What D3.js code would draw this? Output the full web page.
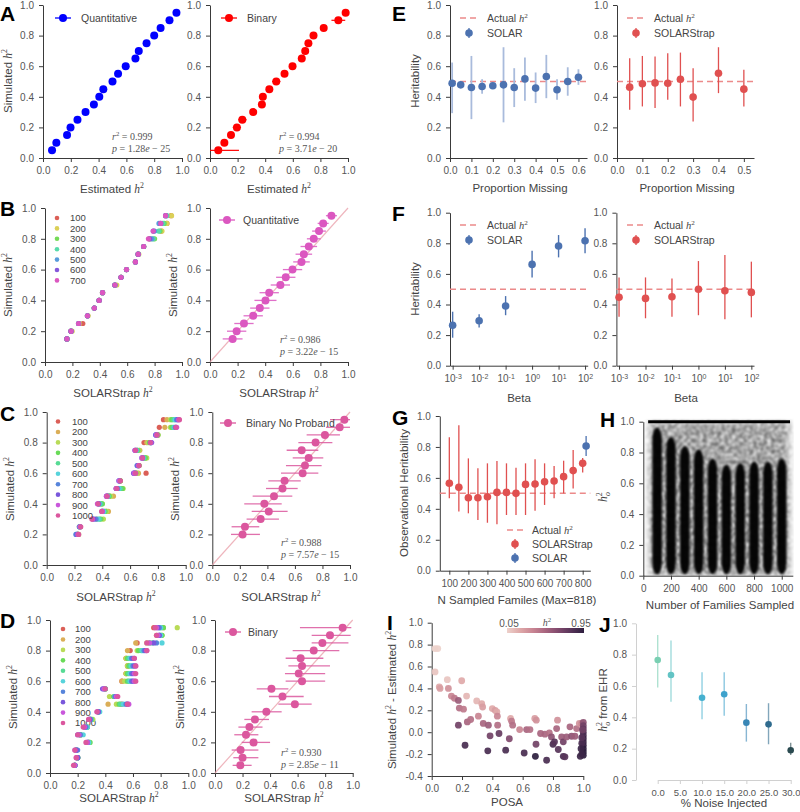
<!DOCTYPE html>
<html><head><meta charset="utf-8">
<script src="https://cdn.jsdelivr.net/npm/d3@7"></script>
<style>
body{margin:0;background:#fff;}
svg{display:block;font-family:"Liberation Sans",Arial,sans-serif;}
</style></head><body>
<svg id="c" width="800" height="812"></svg>
<script>
// ---------------- DATA ----------------
// Panel A
const levelsA = [0.05,0.10,0.15,0.20,0.25,0.30,0.35,0.40,0.45,0.50,0.55,0.60,0.65,0.70,0.75,0.80,0.85,0.90,0.95];
const quantEst = [0.065,0.096,0.173,0.198,0.248,0.306,0.366,0.405,0.434,0.50,0.54,0.595,0.665,0.689,0.745,0.80,0.846,0.91,0.96];
const binEst = [0.06,0.104,0.152,0.195,0.234,0.313,0.376,0.383,0.43,0.48,0.54,0.598,0.665,0.69,0.713,0.75,0.824,0.93,0.983];
const binLo  = [0.0,0.085,0.13,0.165,0.205,0.29,0.36,0.37,0.41,0.45,0.52,0.575,0.645,0.68,0.695,0.73,0.815,0.88,0.975];
const binHi  = [0.21,0.12,0.175,0.225,0.265,0.335,0.39,0.395,0.45,0.51,0.56,0.62,0.685,0.70,0.735,0.77,0.835,0.98,0.99];
// Panel B
const sampleSizesB = ["100","200","300","400","500","600","700"];
const levelsB = [0.15,0.20,0.25,0.30,0.35,0.40,0.45,0.50,0.55,0.60,0.65,0.70,0.75,0.80,0.85,0.90,0.95];
const b100 = [0.16,0.19,0.276,0.31,0.36,0.395,0.42,0.51,0.555,0.595,0.66,0.68,0.72,0.76,0.85,0.89,0.92];
const b200 = [0.16,0.198,0.25,0.315,0.36,0.395,0.42,0.524,0.555,0.595,0.66,0.685,0.72,0.77,0.854,0.89,0.924];
const b300 = [0.16,0.19,0.245,0.31,0.36,0.395,0.42,0.51,0.555,0.595,0.66,0.68,0.72,0.80,0.84,0.87,0.883];
const b400 = [0.16,0.19,0.245,0.31,0.36,0.395,0.42,0.51,0.555,0.595,0.66,0.68,0.72,0.79,0.83,0.86,0.89];
const b500 = [0.16,0.19,0.245,0.31,0.36,0.395,0.42,0.51,0.555,0.595,0.66,0.68,0.72,0.78,0.80,0.832,0.88];
const b600 = [0.16,0.19,0.245,0.31,0.36,0.395,0.42,0.51,0.555,0.595,0.66,0.68,0.72,0.765,0.79,0.845,0.88];
const b700 = [0.16,0.19,0.245,0.31,0.36,0.395,0.42,0.51,0.555,0.595,0.66,0.68,0.72,0.755,0.79,0.845,0.88];
const bqEst = [0.164,0.193,0.246,0.313,0.361,0.402,0.429,0.51,0.549,0.598,0.663,0.68,0.716,0.752,0.79,0.82,0.88];
const bqErr = [0.072,0.07,0.07,0.07,0.07,0.08,0.07,0.07,0.07,0.07,0.06,0.06,0.06,0.05,0.05,0.04,0.04];
// Panel C
const sampleSizesCD = ["100","200","300","400","500","600","700","800","900","1000"];
const levelsC = [0.20,0.25,0.30,0.35,0.40,0.45,0.50,0.55,0.60,0.65,0.70,0.75,0.80,0.85,0.90,0.95];
const c100  = [0.225,0.24,0.33,0.43,0.38,0.45,0.50,0.53,0.715,0.66,0.70,0.65,0.70,0.79,0.81,0.84];
const c200  = [0.225,0.24,0.36,0.444,0.39,0.48,0.54,0.53,0.66,0.665,0.71,0.67,0.72,0.80,0.85,0.865];
const c300  = [0.23,0.24,0.408,0.43,0.40,0.46,0.55,0.53,0.65,0.66,0.72,0.665,0.73,0.80,0.89,0.89];
const c400  = [0.22,0.235,0.39,0.42,0.40,0.45,0.545,0.53,0.64,0.665,0.71,0.655,0.74,0.80,0.90,0.90];
const c500  = [0.22,0.24,0.38,0.41,0.39,0.44,0.53,0.525,0.64,0.66,0.70,0.65,0.745,0.795,0.91,0.915];
const c600  = [0.215,0.24,0.37,0.41,0.38,0.44,0.52,0.52,0.635,0.655,0.695,0.645,0.75,0.79,0.92,0.925];
const c700  = [0.21,0.235,0.355,0.40,0.375,0.435,0.51,0.52,0.63,0.65,0.69,0.64,0.75,0.785,0.925,0.935];
const c800  = [0.22,0.24,0.34,0.40,0.37,0.43,0.50,0.525,0.625,0.655,0.685,0.635,0.755,0.785,0.93,0.945];
const c900  = [0.225,0.24,0.33,0.40,0.365,0.43,0.50,0.52,0.63,0.66,0.685,0.635,0.75,0.79,0.935,0.95];
const c1000 = [0.23,0.245,0.325,0.395,0.37,0.435,0.505,0.53,0.64,0.665,0.69,0.64,0.745,0.795,0.93,0.955];
const cbEst = [0.22,0.237,0.351,0.41,0.378,0.448,0.51,0.525,0.656,0.673,0.70,0.649,0.75,0.818,0.925,0.959];
const cbLo  = [0.136,0.14,0.249,0.286,0.232,0.293,0.39,0.407,0.499,0.535,0.584,0.54,0.625,0.685,0.826,0.855];
const cbHi  = [0.346,0.341,0.484,0.547,0.504,0.581,0.62,0.642,0.77,0.794,0.806,0.77,0.872,0.927,1.0,1.0];
// Panel D
const levelsD = [0.05,0.10,0.15,0.20,0.25,0.30,0.35,0.40,0.45,0.50,0.55,0.60,0.65,0.70,0.75,0.80,0.85,0.90,0.95];
const d100  = [0.18,0.20,0.19,0.28,0.22,0.26,0.29,0.35,0.52,0.47,0.40,0.52,0.55,0.56,0.55,0.58,0.63,0.79,0.75];
const d200  = [0.18,0.20,0.19,0.28,0.22,0.26,0.29,0.35,0.42,0.47,0.40,0.52,0.55,0.56,0.55,0.56,0.62,0.77,0.82];
const d300  = [0.18,0.20,0.19,0.28,0.22,0.27,0.31,0.35,0.48,0.43,0.40,0.54,0.55,0.56,0.55,0.63,0.70,0.81,0.92];
const d400  = [0.18,0.20,0.19,0.29,0.22,0.27,0.30,0.35,0.50,0.46,0.40,0.56,0.56,0.57,0.56,0.64,0.72,0.81,0.82];
const d500  = [0.18,0.20,0.19,0.28,0.22,0.27,0.30,0.35,0.51,0.47,0.40,0.57,0.57,0.58,0.57,0.66,0.74,0.80,0.80];
const d600  = [0.18,0.20,0.19,0.28,0.24,0.27,0.29,0.36,0.53,0.47,0.40,0.58,0.58,0.59,0.58,0.67,0.81,0.80,0.80];
const d700  = [0.18,0.20,0.20,0.27,0.22,0.26,0.29,0.35,0.55,0.47,0.39,0.59,0.59,0.60,0.59,0.68,0.77,0.79,0.79];
const d800  = [0.18,0.20,0.19,0.27,0.20,0.25,0.29,0.35,0.56,0.48,0.38,0.60,0.60,0.61,0.60,0.69,0.75,0.79,0.78];
const d900  = [0.18,0.19,0.18,0.27,0.21,0.25,0.28,0.34,0.57,0.48,0.39,0.61,0.61,0.62,0.61,0.70,0.72,0.78,0.77];
const d1000 = [0.17,0.19,0.18,0.26,0.20,0.24,0.28,0.34,0.56,0.49,0.40,0.62,0.62,0.62,0.61,0.70,0.70,0.77,0.76];
const dbEst = [0.184,0.20,0.186,0.28,0.225,0.25,0.29,0.373,0.58,0.49,0.41,0.632,0.608,0.632,0.622,0.717,0.78,0.835,0.927];
const dbLo  = [0.128,0.133,0.121,0.194,0.14,0.17,0.213,0.266,0.46,0.392,0.303,0.513,0.508,0.533,0.513,0.564,0.702,0.702,0.617];
const dbHi  = [0.266,0.315,0.315,0.40,0.315,0.345,0.392,0.484,0.702,0.644,0.533,0.80,0.80,0.835,0.787,0.903,0.969,0.985,0.99];
// Panel E
const eSolarX  = [0.01,0.05,0.10,0.15,0.20,0.25,0.30,0.35,0.40,0.45,0.50,0.55,0.60];
const eSolarH  = [0.489,0.478,0.461,0.467,0.472,0.478,0.461,0.517,0.457,0.533,0.446,0.50,0.528];
const eSolarLo = [0.293,0.47,0.254,0.42,0.465,0.233,0.333,0.374,0.359,0.391,0.38,0.407,0.478];
const eSolarHi = [0.624,0.49,0.667,0.515,0.48,0.724,0.587,0.657,0.559,0.674,0.515,0.593,0.58];
const eStrapX  = [0.05,0.10,0.15,0.20,0.25,0.30,0.40,0.50];
const eStrapH  = [0.463,0.485,0.491,0.489,0.515,0.398,0.554,0.45];
const eStrapLo = [0.315,0.337,0.326,0.38,0.337,0.239,0.424,0.337];
const eStrapHi = [0.652,0.667,0.663,0.685,0.689,0.587,0.724,0.576];
// Panel F
const betas = [1e-3,1e-2,1e-1,1,10,100];
const fSolarH  = [0.264,0.294,0.39,0.662,0.782,0.817];
const fSolarLo = [0.183,0.25,0.33,0.577,0.708,0.735];
const fSolarHi = [0.353,0.336,0.455,0.752,0.854,0.898];
const fStrapH  = [0.447,0.44,0.451,0.50,0.49,0.479];
const fStrapLo = [0.32,0.31,0.32,0.33,0.303,0.316];
const fStrapHi = [0.577,0.577,0.57,0.684,0.723,0.68];
// Panel G
const gN  = [100,150,200,250,300,350,400,450,500,550,600,650,700,750,800];
const gH  = [0.565,0.539,0.472,0.472,0.478,0.506,0.506,0.50,0.558,0.56,0.575,0.58,0.608,0.647,0.694];
const gLo = [0.468,0.382,0.371,0.328,0.31,0.30,0.36,0.36,0.36,0.388,0.425,0.468,0.50,0.532,0.634];
const gHi = [0.862,0.94,0.726,0.662,0.694,0.709,0.694,0.666,0.694,0.72,0.694,0.677,0.711,0.78,0.728];
const gSolarN = [818], gSolarH = [0.806], gSolarLo = [0.741], gSolarHi = [0.87];
// Panel H (density columns)
const hFamilies  = [100,200,300,400,500,600,700,800,900,1000];
const hDenseTop  = [0.96,0.90,0.84,0.82,0.76,0.72,0.73,0.74,0.74,0.76];
const hDenseBot  = [0.01,0.01,0.01,0.01,0.01,0.01,0.01,0.01,0.01,0.01];
const hHazeTop   = [1.0,1.0,1.0,1.0,1.0,1.0,1.0,1.0,1.0,1.0];
// Panel I
const iPosa = [0.022,0.04,0.022,0.05,0.055,0.103,0.11,0.198,0.13,0.15,0.176,0.182,0.23,0.21,0.176,0.235,0.257,0.297,0.308,0.33,0.336,0.34,0.374,0.385,0.40,0.418,0.43,0.433,0.435,0.444,0.22,0.37,0.488,0.512,0.52,0.527,0.534,0.58,0.61,0.626,0.648,0.68,0.69,0.684,0.688,0.718,0.747,0.758,0.776,0.79,0.80,0.81,0.824,0.83,0.835,0.857,0.868,0.868,0.879,0.89,0.912,0.923,0.945,0.956,0.974,0.99,1.0,1.0,1.0,1.0,1.0,1.0,1.0,1.0,1.0,1.0,1.0,0.99,0.99,0.99,0.985,0.995,0.98];
const iDiff = [0.764,0.764,0.55,0.414,0.40,0.48,0.40,0.47,0.33,0.31,0.29,0.22,0.33,0.21,0.064,0.094,0.116,0.286,0.146,0.26,0.23,0.08,0.064,-0.033,0.216,0.20,0.186,0.146,0.064,-0.012,-0.119,-0.17,-0.164,-0.06,0.125,0.10,0.064,0.024,-0.19,0.024,0.024,0.125,0.11,-0.22,-0.11,-0.012,-0.018,-0.256,-0.006,-0.043,-0.11,-0.088,0.033,0.11,-0.158,-0.043,-0.088,-0.22,-0.225,-0.043,0.049,-0.037,-0.037,0.033,0.08,0.08,0.09,0.06,0.03,0.0,-0.03,-0.06,-0.09,-0.12,-0.15,-0.18,-0.21,-0.20,-0.10,-0.05,-0.15,0.02,-0.22];
const iH2 = [0.05,0.05,0.1,0.2,0.25,0.1,0.3,0.2,0.35,0.4,0.55,0.45,0.15,0.4,0.7,0.5,0.45,0.15,0.35,0.2,0.25,0.5,0.55,0.7,0.2,0.25,0.2,0.35,0.45,0.75,0.85,0.85,0.85,0.65,0.2,0.4,0.45,0.35,0.85,0.5,0.45,0.25,0.3,0.95,0.7,0.5,0.5,0.85,0.45,0.6,0.85,0.8,0.5,0.3,0.8,0.55,0.7,0.85,0.8,0.55,0.5,0.6,0.55,0.45,0.3,0.35,0.6,0.7,0.75,0.8,0.85,0.9,0.9,0.92,0.95,0.95,0.95,0.9,0.85,0.8,0.9,0.7,0.9];
// Panel J
const jNoise = [0,3,10,15,20,25,30];
const jNoiseTicks = [0,5,10,15,20,25,30];
const jH  = [0.766,0.67,0.525,0.547,0.366,0.355,0.19];
const jLo = [0.59,0.50,0.387,0.41,0.245,0.228,0.16];
const jHi = [0.925,0.89,0.687,0.687,0.485,0.49,0.238];
const jColors = ["#79cfb2","#62c3c4","#46b0cf","#3ea2cc","#3886b6","#2f6b8e","#2a4a50"];

// ---------------- HELPERS ----------------
const svg = d3.select('#c');
const FONT = '"Liberation Sans", Arial, sans-serif';
const SERIF = '"Liberation Serif", "DejaVu Serif", serif';
const AX = '#3a3a3a', TL = '#555', LB = '#444';
const BLUE = '#4c72b0', RED = '#e05050', DASH = '#ec8a8a';
const f1 = d3.format('.1f');
const ticks01 = [0,0.2,0.4,0.6,0.8,1.0];

function styleAxis(g, col, fs){
  g.select('.domain').attr('stroke', col||AX).attr('stroke-width',1);
  g.selectAll('.tick line').attr('stroke', col||AX);
  g.selectAll('.tick text').attr('fill',TL).attr('font-size',fs||10).attr('font-family',FONT);
}
function axes(x, y, o={}){
  const xa = svg.append('g').attr('transform',`translate(0,${o.xAxisY ?? y.range()[0]})`)
    .call(d3.axisBottom(x).tickValues(o.xTicks||ticks01).tickFormat(o.fx||f1).tickSize(4).tickPadding(5).tickSizeOuter(0));
  styleAxis(xa, o.col, o.xfs);
  const ya = svg.append('g').attr('transform',`translate(${o.yAxisX ?? x.range()[0]},0)`)
    .call(d3.axisLeft(y).tickValues(o.yTicks||ticks01).tickFormat(o.fy||f1).tickSize(4).tickPadding(5).tickSizeOuter(0));
  styleAxis(ya, o.col);
  return {xa, ya};
}
function mtext(parent, x, y, parts, o={}){
  const fs = o.size || 11.5;
  const t = parent.append('text')
    .attr('transform', `translate(${x},${y})` + (o.rot ? ` rotate(${o.rot})` : ''))
    .attr('text-anchor', o.anchor || 'middle').attr('font-size', fs)
    .attr('fill', o.fill || LB).attr('font-family', o.family || FONT);
  let shift = 0;
  parts.forEach(([s,k])=>{
    const ts = t.append('tspan').text(s);
    let target = 0;
    if(k==='i'){ ts.attr('font-family',SERIF).attr('font-style','italic'); }
    if(k==='r'){ ts.attr('font-family',SERIF); }
    if(k==='sup'){ ts.attr('font-family',SERIF).attr('font-size',fs*0.68); target = -0.42*fs; }
    if(k==='sub'){ ts.attr('font-family',SERIF).attr('font-style','italic').attr('font-size',fs*0.68).attr('dx',-fs*0.33); target = 0.3*fs; }
    const dy = target - shift;
    if(dy !== 0) ts.attr('dy', dy);
    shift = target;
  });
  return t;
}
const H2 = [['h','i'],['2','sup']];
function letter(x, y, s){
  svg.append('text').attr('x',x).attr('y',y).attr('font-size',21).attr('font-weight','bold')
    .attr('font-family',FONT).attr('fill','#000').text(s);
}
function annot(x, y, r2, pm, pe){
  mtext(svg, x, y, [['r','i'],['2','sup'],[' = '+r2,'r']], {anchor:'start', size:10, family:SERIF, fill:'#555'});
  mtext(svg, x, y+11.5, [['p','i'],[' = '+pm,'r'],['e','i'],[' − '+pe,'r']], {anchor:'start', size:10, family:SERIF, fill:'#555'});
}
function errXPoints(x, y, lev, est, lo, hi, color, r, w, op){
  const g = svg.append('g');
  g.selectAll(null).data(lev).join('line')
    .attr('x1',(d,i)=>x(lo[i])).attr('x2',(d,i)=>x(hi[i]))
    .attr('y1',d=>y(d)).attr('y2',d=>y(d))
    .attr('stroke',color).attr('stroke-width',w).attr('stroke-opacity',op??1);
  g.selectAll(null).data(lev).join('circle')
    .attr('cx',(d,i)=>x(est[i])).attr('cy',d=>y(d)).attr('r',r).attr('fill',color);
}
function errYPoints(x, y, xs, h, lo, hi, color, barColor, r, w){
  const g = svg.append('g');
  g.selectAll(null).data(xs).join('line')
    .attr('x1',d=>x(d)).attr('x2',d=>x(d))
    .attr('y1',(d,i)=>y(lo[i])).attr('y2',(d,i)=>y(hi[i]))
    .attr('stroke',barColor).attr('stroke-width',w);
  g.selectAll(null).data(xs).join('circle')
    .attr('cx',d=>x(d)).attr('cy',(d,i)=>y(h[i])).attr('r',r).attr('fill',color);
}
const hls = (i,n) => d3.hsl(((0.01 + i/n) % 1)*360, 0.65, 0.6).formatHex();
function multiScatter(x, y, lev, series, r){
  const g = svg.append('g');
  series.forEach((arr, si)=>{
    g.selectAll(null).data(lev).join('circle')
      .attr('cx',(d,i)=>x(arr[i])).attr('cy',d=>y(d)).attr('r',r)
      .attr('fill',hls(si, series.length));
  });
}
function sizeLegend(names, dotX, textX, y0, dy){
  const g = svg.append('g');
  names.forEach((n,i)=>{
    g.append('circle').attr('cx',dotX).attr('cy',y0+i*dy).attr('r',2.3).attr('fill',hls(i,names.length));
    g.append('text').attr('x',textX).attr('y',y0+i*dy+3.4).attr('font-size',9.5).attr('fill',LB).text(n);
  });
}
function legendMarker(cx, cy, color, orient, r){
  const g = svg.append('g');
  if(orient==='h') g.append('line').attr('x1',cx-8).attr('x2',cx+8).attr('y1',cy).attr('y2',cy).attr('stroke',color).attr('stroke-width',1.3);
  if(orient==='v') g.append('line').attr('x1',cx).attr('x2',cx).attr('y1',cy-5).attr('y2',cy+5).attr('stroke',color).attr('stroke-width',1.3);
  g.append('circle').attr('cx',cx).attr('cy',cy).attr('r',r||3.8).attr('fill',color);
}
function legendText(x, y, parts){ mtext(svg, x, y, parts, {anchor:'start', size:10.5}); }
function legendDash(x1, x2, y){
  svg.append('line').attr('x1',x1).attr('x2',x2).attr('y1',y).attr('y2',y)
    .attr('stroke',DASH).attr('stroke-width',1.5).attr('stroke-dasharray','6,4');
}
function hline(x, y, v){
  svg.append('line').attr('x1',x.range()[0]).attr('x2',x.range()[1]).attr('y1',y(v)).attr('y2',y(v))
    .attr('stroke',DASH).attr('stroke-width',1.5).attr('stroke-dasharray','6,4');
}
function diag(x, y, color){
  svg.append('line').attr('x1',x(0)).attr('y1',y(0)).attr('x2',x(1)).attr('y2',y(1))
    .attr('stroke',color).attr('stroke-width',1.2).attr('stroke-opacity',0.8);
}

// ---------------- PANEL A ----------------
const yA = d3.scaleLinear([0,1],[158,5]);
const xA1 = d3.scaleLinear([0,1],[43,182]);
const xA2 = d3.scaleLinear([0,1],[210,348]);
axes(xA1, yA); axes(xA2, yA);
errXPoints(xA1, yA, levelsA, quantEst, quantEst, quantEst, '#0000ff', 4, 1);
errXPoints(xA2, yA, levelsA, binEst, binLo, binHi, '#ff0000', 4, 1.2);
legendMarker(63, 18, '#0000ff', 'h', 4); legendText(81, 22, [['Quantitative','s']]);
legendMarker(229, 18, '#ff0000', 'h', 4); legendText(247, 22, [['Binary','s']]);
annot(112, 140, '0.999', '1.28', '25');
annot(279, 140, '0.994', '3.71', '20');
mtext(svg, 112, 193, [['Estimated ','s'],...H2]);
mtext(svg, 279, 193, [['Estimated ','s'],...H2]);
mtext(svg, 12, 81, [['Simulated ','s'],...H2], {rot:-90});
letter(0, 21, 'A');

// ---------------- PANEL B ----------------
const yB = d3.scaleLinear([0,1],[362,208]);
const xB1 = d3.scaleLinear([0,1],[45,182]);
const xB2 = d3.scaleLinear([0,1],[210,348]);
axes(xB1, yB); axes(xB2, yB);
multiScatter(xB1, yB, levelsB, [b100,b200,b300,b400,b500,b600,b700], 2.6);
sizeLegend(sampleSizesB, 57, 70, 218, 10.4);
const magenta = hls(6,7);
diag(xB2, yB, '#eaa3ac');
errXPoints(xB2, yB, levelsB, bqEst, bqEst.map((v,i)=>v-bqErr[i]), bqEst.map((v,i)=>v+bqErr[i]), magenta, 4, 1.3, 0.85);
legendMarker(227, 220, magenta, 'h', 4); legendText(243, 224, [['Quantitative','s']]);
annot(280, 343, '0.986', '3.22', '15');
mtext(svg, 113, 397, [['SOLARStrap ','s'],...H2]);
mtext(svg, 279, 397, [['SOLARStrap ','s'],...H2]);
mtext(svg, 12, 285, [['Simulated ','s'],...H2], {rot:-90});
mtext(svg, 177, 285, [['Simulated ','s'],...H2], {rot:-90});
letter(0, 216, 'B');

// ---------------- PANEL C ----------------
const yC = d3.scaleLinear([0,1],[565,412]);
const xC1 = d3.scaleLinear([0,1],[46.7,185.7]);
const xC2 = d3.scaleLinear([0,1],[212.3,350]);
axes(xC1, yC); axes(xC2, yC);
multiScatter(xC1, yC, levelsC, [c100,c200,c300,c400,c500,c600,c700,c800,c900,c1000], 2.6);
sizeLegend(sampleSizesCD, 58, 72, 421.5, 10.45);
const pink = hls(9,10);
diag(xC2, yC, '#eaa3ac');
errXPoints(xC2, yC, levelsC, cbEst, cbLo, cbHi, pink, 4, 1.3, 0.85);
legendMarker(228, 423, pink, 'h', 4); legendText(246, 427, [['Binary No Proband','s']]);
annot(281, 546, '0.988', '7.57', '15');
mtext(svg, 116, 601, [['SOLARStrap ','s'],...H2]);
mtext(svg, 281, 601, [['SOLARStrap ','s'],...H2]);
mtext(svg, 14, 489, [['Simulated ','s'],...H2], {rot:-90});
mtext(svg, 179, 489, [['Simulated ','s'],...H2], {rot:-90});
letter(0, 421, 'C');

// ---------------- PANEL D ----------------
const yD = d3.scaleLinear([0,1],[773,620]);
const xD1 = d3.scaleLinear([0,1],[50,188.3]);
const xD2 = d3.scaleLinear([0,1],[215,352.7]);
axes(xD1, yD); axes(xD2, yD);
sizeLegend(sampleSizesCD, 63, 75, 629, 10.45);
multiScatter(xD1, yD, levelsD, [d100,d200,d300,d400,d500,d600,d700,d800,d900,d1000], 2.6);
diag(xD2, yD, '#eaa3ac');
errXPoints(xD2, yD, levelsD, dbEst, dbLo, dbHi, pink, 4, 1.3, 0.85);
legendMarker(233, 632, pink, 'h', 4); legendText(248, 636, [['Binary','s']]);
annot(281, 756, '0.930', '2.85', '11');
mtext(svg, 119, 802, [['SOLARStrap ','s'],...H2]);
mtext(svg, 284, 802, [['SOLARStrap ','s'],...H2]);
mtext(svg, 17, 697, [['Simulated ','s'],...H2], {rot:-90});
mtext(svg, 184, 697, [['Simulated ','s'],...H2], {rot:-90});
letter(0, 628, 'D');

// ---------------- PANEL E ----------------
const yE = d3.scaleLinear([0,1],[158,5]);
const xE1 = d3.scaleLinear([0,0.64],[450,587]);
const xE2 = d3.scaleLinear([0,0.54],[617,754]);
axes(xE1, yE, {xTicks:[0,0.1,0.2,0.3,0.4,0.5,0.6]});
axes(xE2, yE, {xTicks:[0,0.1,0.2,0.3,0.4,0.5]});
hline(xE1, yE, 0.5); hline(xE2, yE, 0.5);
errYPoints(xE1, yE, eSolarX, eSolarH, eSolarLo, eSolarHi, BLUE, '#a9bbdc', 3.8, 1.8);
errYPoints(xE2, yE, eStrapX, eStrapH, eStrapLo, eStrapHi, RED, RED, 3.8, 1.3);
legendDash(460, 477, 18); legendText(487, 22, [['Actual ','s'],...H2]);
legendMarker(469, 33, BLUE, 'v'); legendText(487, 37, [['SOLAR','s']]);
legendDash(627, 643, 18); legendText(654, 22, [['Actual ','s'],...H2]);
legendMarker(636, 33, RED, 'v'); legendText(654, 37, [['SOLARStrap','s']]);
mtext(svg, 520, 192, [['Proportion Missing','s']]);
mtext(svg, 687, 192, [['Proportion Missing','s']]);
mtext(svg, 419, 81, [['Heritability','s']], {rot:-90});
letter(392, 21, 'E');

// ---------------- PANEL F ----------------
const yF = d3.scaleLinear([0,1],[365.7,212.7]);
const fDom = [Math.pow(10,-3.1), Math.pow(10,2.1)];
const xF1 = d3.scaleLog(fDom,[450,587.7]);
const xF2 = d3.scaleLog(fDom,[616.4,754]);
[xF1, xF2].forEach(x=>{
  const a = axes(x, yF, {xTicks:betas, fx:d=>'10'});
  a.xa.selectAll('.tick text').each(function(d){
    d3.select(this).append('tspan').attr('dy','-0.45em').attr('font-size',7).text(Math.round(Math.log10(d)));
  });
});
hline(xF1, yF, 0.5); hline(xF2, yF, 0.5);
errYPoints(xF1, yF, betas, fSolarH, fSolarLo, fSolarHi, BLUE, BLUE, 3.8, 1.4);
errYPoints(xF2, yF, betas, fStrapH, fStrapLo, fStrapHi, RED, RED, 3.8, 1.3);
legendDash(460, 477, 225); legendText(487, 229, [['Actual ','s'],...H2]);
legendMarker(469, 240, BLUE, 'v'); legendText(487, 244, [['SOLAR','s']]);
legendDash(627, 643, 225); legendText(654, 229, [['Actual ','s'],...H2]);
legendMarker(636, 240, RED, 'v'); legendText(654, 244, [['SOLARStrap','s']]);
mtext(svg, 519, 402, [['Beta','s']]);
mtext(svg, 686, 402, [['Beta','s']]);
mtext(svg, 419, 289, [['Heritability','s']], {rot:-90});
letter(392, 221, 'F');

// ---------------- PANEL G ----------------
const yG = d3.scaleLinear([0,1],[570.7,416]);
const xG = d3.scaleLinear([50,840],[439.8,590.3]);
axes(xG, yG, {xTicks:[100,200,300,400,500,600,700,800], fx:d3.format('d')});
hline(xG, yG, 0.5);
errYPoints(xG, yG, gN, gH, gLo, gHi, RED, RED, 3.8, 1.3);
errYPoints(xG, yG, gSolarN, gSolarH, gSolarLo, gSolarHi, BLUE, BLUE, 3.8, 1.3);
legendDash(507, 524, 530); legendText(532, 534, [['Actual ','s'],...H2]);
legendMarker(515, 544, RED, 'v'); legendText(532, 548, [['SOLARStrap','s']]);
legendMarker(515, 558, BLUE, 'v'); legendText(532, 562, [['SOLAR','s']]);
mtext(svg, 517, 604, [['N Sampled Familes (Max=818)','s']]);
mtext(svg, 408, 493, [['Observational Heritability','s']], {rot:-90});
letter(392, 425, 'G');

// ---------------- PANEL H ----------------
const yH = d3.scaleLinear([0,1],[575.7,421.7]);
const xH = d3.scaleLinear([0,1080],[643.3,792.8]);
const defs = svg.append('defs');
defs.append('filter').attr('id','blurB').attr('x','-50%').attr('y','-10%').attr('width','200%').attr('height','120%')
  .append('feGaussianBlur').attr('stdDeviation',1.1);
const sp = defs.append('filter').attr('id','speckle').attr('x','-30%').attr('y','-10%').attr('width','160%').attr('height','120%');
sp.append('feTurbulence').attr('type','fractalNoise').attr('baseFrequency','0.28').attr('numOctaves',2).attr('seed',7).attr('result','n');
sp.append('feColorMatrix').attr('in','n').attr('type','matrix')
  .attr('values','0 0 0 0 0  0 0 0 0 0  0 0 0 0 0  0 0 0 1.5 -0.2').attr('result','na');
sp.append('feGaussianBlur').attr('in','SourceGraphic').attr('stdDeviation',3).attr('result','sb');
sp.append('feComposite').attr('in','sb').attr('in2','na').attr('operator','in').attr('result','c');
sp.append('feGaussianBlur').attr('in','c').attr('stdDeviation',0.8);
defs.append('clipPath').attr('id','clipH').append('rect')
  .attr('x',xH(0)+1).attr('y',yH(1)-3).attr('width',xH(1080)-xH(0)).attr('height',yH(0)-yH(1)+3);
const gHb = svg.append('g').attr('clip-path','url(#clipH)');
const hz = gHb.append('g').attr('filter','url(#speckle)');
hz.selectAll(null).data(hFamilies).join('rect')
  .attr('x',d=>xH(d)-8).attr('width',16).attr('y',(d,i)=>yH(hHazeTop[i])).attr('height',(d,i)=>yH(0)-yH(hHazeTop[i]))
  .attr('fill','#000').attr('opacity',0.6);
gHb.selectAll(null).data(hFamilies).join('rect')
  .attr('x',d=>xH(d)-4.8).attr('width',9.6)
  .attr('y',(d,i)=>yH(hDenseTop[i])).attr('height',(d,i)=>yH(hDenseBot[i])-yH(hDenseTop[i]))
  .attr('rx',4.8).attr('ry',12)
  .attr('fill','#000').attr('opacity',0.97).attr('filter','url(#blurB)');
svg.append('line').attr('x1',xH(35)).attr('x2',xH(1060)).attr('y1',yH(1)).attr('y2',yH(1))
  .attr('stroke','#000').attr('stroke-width',3);
axes(xH, yH, {xTicks:[0,200,400,600,800,1000], fx:d3.format('d')});
mtext(svg, 720, 609, [['Number of Families Sampled','s']]);
mtext(svg, 607, 497, [['h','i'],['2','sup'],['o','sub']], {rot:-90});
letter(600, 427, 'H');

// ---------------- PANEL I ----------------
const yI = d3.scaleLinear([-0.4,1.0],[776,622.7]);
const xI = d3.scaleLinear([0,1],[431.7,583.3]);
const stopsI = ['#edd1cb','#dfa9a9','#c98593','#a8657f','#80496d','#573459','#2d1e3e'];
const colI = d3.scaleLinear().domain(d3.range(stopsI.length).map(i=>0.05+0.9*i/(stopsI.length-1))).range(stopsI).clamp(true);
axes(xI, yI, {yTicks:[-0.4,-0.2,0,0.2,0.4,0.6,0.8,1.0], fy:d=>f1(d).replace('−','-')});
svg.append('g').selectAll(null).data(iPosa).join('circle')
  .attr('cx',d=>xI(d)).attr('cy',(d,i)=>yI(iDiff[i])).attr('r',3.4)
  .attr('fill',(d,i)=>colI(iH2[i])).attr('fill-opacity',0.92);
const grad = defs.append('linearGradient').attr('id','gradI');
stopsI.forEach((c,i)=>grad.append('stop').attr('offset',(i/(stopsI.length-1)*100)+'%').attr('stop-color',c));
svg.append('rect').attr('x',507).attr('y',628).attr('width',77).attr('height',5).attr('fill','url(#gradI)');
svg.append('text').attr('x',509).attr('y',626.5).attr('text-anchor','middle').attr('font-size',10).attr('fill',TL).text('0.05');
svg.append('text').attr('x',581).attr('y',626.5).attr('text-anchor','middle').attr('font-size',10).attr('fill',TL).text('0.95');
mtext(svg, 547, 626, H2, {size:10, fill:TL});
mtext(svg, 507, 806, [['POSA','s']]);
mtext(svg, 396, 700, [['Simulated ','s'],...H2,[' - Estimated ','s'],...H2], {rot:-90});
letter(387, 630, 'I');

// ---------------- PANEL J ----------------
const yJ = d3.scaleLinear([0,1],[780,623.3]);
const xJ = d3.scaleLinear([0,30],[657.7,790.7]);
axes(xJ, yJ, {xTicks:jNoiseTicks, yTicks:ticks01, yAxisX:636, xAxisY:780, col:'#d0d0d0', xfs:9.5});
svg.append('g').selectAll(null).data(jNoise).join('line')
  .attr('x1',d=>xJ(d)).attr('x2',d=>xJ(d)).attr('y1',(d,i)=>yJ(jLo[i])).attr('y2',(d,i)=>yJ(jHi[i]))
  .attr('stroke',(d,i)=>jColors[i]).attr('stroke-width',1.4).attr('stroke-opacity',0.6);
svg.append('g').selectAll(null).data(jNoise).join('circle')
  .attr('cx',d=>xJ(d)).attr('cy',(d,i)=>yJ(jH[i])).attr('r',3.3).attr('fill',(d,i)=>jColors[i]);
mtext(svg, 724, 807, [['% Noise Injected','s']]);
mtext(svg, 607, 700, [['h','i'],['2','sup'],['o','sub'],[' from EHR','s']], {rot:-90});
letter(599, 632, 'J');
</script></body></html>
